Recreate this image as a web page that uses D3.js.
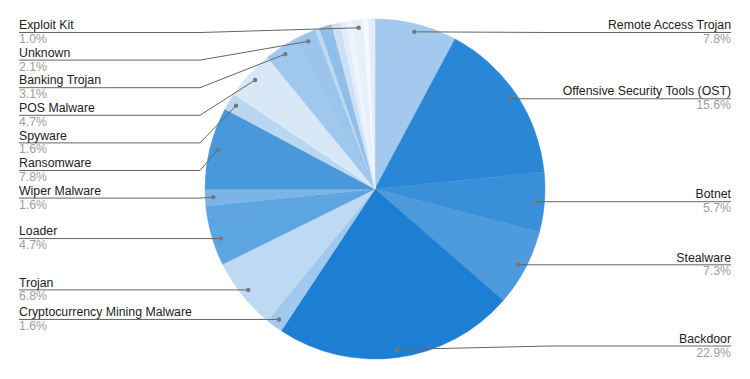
<!DOCTYPE html>
<html>
<head>
<meta charset="utf-8">
<script src="https://cdn.jsdelivr.net/npm/d3@7"></script>
<style>
  body { margin: 0; background: #fff; }
  text { font-family: Arial, "Liberation Sans", sans-serif; font-size: 12.3px; }
</style>
</head>
<body>
<div class="chart"></div>
<script>
// slices clockwise from 12 o'clock; empty name = slice drawn without a label
let names = ["Remote Access Trojan", "Offensive Security Tools (OST)", "Botnet", "Stealware",
  "Backdoor", "Cryptocurrency Mining Malware", "Trojan", "Loader", "", "Wiper Malware",
  "Ransomware", "Spyware", "POS Malware", "Banking Trojan", "Unknown", "", "", "", "", "",
  "Exploit Kit", "", ""];
let values = [7.8, 15.6, 5.7, 7.3, 22.9, 1.6, 6.8, 4.7, 1.0, 1.6, 7.8, 1.6, 4.7, 3.1, 2.1,
  0.4, 1.2, 0.8, 0.6, 0.6, 1.0, 0.5, 0.6];
let colors = ["#a3c9ee", "#2a87d6", "#3a8fd9", "#4d9add", "#1d7fd4", "#a2c9ed", "#bed9f3",
  "#5da5e0", "#5da5e0", "#7bb5e7", "#4a98dc", "#bad7f2", "#d8e8f7", "#a0c7ec", "#9dc5eb",
  "#c0daf3", "#8fbee9", "#cbe0f5", "#e2edf9", "#eef5fc", "#e6f0fa", "#f6fafe", "#e1edf9"];

let svgWidth = 750;
let svgHeight = 379;
let cx = 375, cy = 189, radius = 170;

let svg = d3.select(".chart")
  .append("svg")
  .attr("width", svgWidth)
  .attr("height", svgHeight);

let data = names.map((n, i) => ({ name: n, value: values[i], color: colors[i] }));

let pie = d3.pie().sort(null).value(d => d.value);
let arcs = pie(data);

let arc = d3.arc().innerRadius(0).outerRadius(radius);

let pieGroup = svg.append("g")
  .attr("transform", `translate(${cx}, ${cy})`);

pieGroup.selectAll("path")
  .data(arcs)
  .enter()
  .append("path")
  .attr("d", arc)
  .attr("fill", d => d.data.color)
  .attr("stroke", d => d.data.color)
  .attr("stroke-width", 0.5);

// label anchors sit just inside the rim
let dotR = 162;
let labelled = arcs.filter(d => d.data.name !== "").map(d => {
  let a = (d.startAngle + d.endAngle) / 2;
  return {
    name: d.data.name,
    value: d.data.value,
    dx: cx + dotR * Math.sin(a),
    dy: cy - dotR * Math.cos(a),
    left: Math.sin(a) < 0
  };
});

let gap = 27.6, minY = 32.5, maxY = 346;
function placeSide(items) {
  items.sort((a, b) => a.dy - b.dy);
  let prev = -Infinity;
  items.forEach(d => {
    d.ly = Math.max(d.dy, minY, prev + gap);
    prev = d.ly;
  });
  let next = Infinity;
  for (let i = items.length - 1; i >= 0; i--) {
    items[i].ly = Math.min(items[i].ly, maxY, next - gap);
    next = items[i].ly;
  }
}
let leftItems = labelled.filter(d => d.left);
let rightItems = labelled.filter(d => !d.left);
placeSide(leftItems);
placeSide(rightItems);

let leftX = 19, rightX = 731, leftElbow = 200, rightElbow = 550;

let labelGroup = svg.append("g");

labelled.forEach(d => {
  let textX = d.left ? leftX : rightX;
  let elbow = d.left ? Math.min(leftElbow, d.dx) : Math.max(rightElbow, d.dx);
  labelGroup.append("polyline")
    .attr("points", `${d.dx},${d.dy} ${elbow},${d.ly} ${textX},${d.ly}`)
    .attr("fill", "none")
    .attr("stroke", "#666")
    .attr("stroke-width", 1);

  labelGroup.append("circle")
    .attr("cx", d.dx)
    .attr("cy", d.dy)
    .attr("r", 2.2)
    .attr("fill", "#777");

  labelGroup.append("text")
    .attr("x", textX)
    .attr("y", d.ly - 3.3)
    .attr("text-anchor", d.left ? "start" : "end")
    .attr("fill", "#222")
    .text(d.name);

  labelGroup.append("text")
    .attr("x", textX)
    .attr("y", d.ly + 10.5)
    .attr("text-anchor", d.left ? "start" : "end")
    .attr("fill", "#9e9e9e")
    .text(d.value.toFixed(1) + "%");
});
</script>
</body>
</html>
